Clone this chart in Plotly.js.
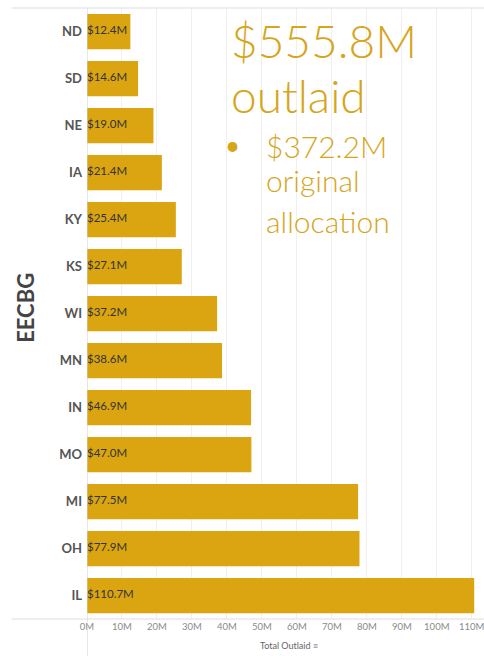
<!DOCTYPE html>
<html>
<head>
<meta charset="utf-8">
<script src="https://cdn.plot.ly/plotly-3.0.1.min.js"></script>
<style>
html,body{margin:0;padding:0;background:#fff;}
#chart{width:484px;height:656px;}
</style>
</head>
<body>
<div id="chart"></div>
<script>
var states = ["ND","SD","NE","IA","KY","KS","WI","MN","IN","MO","MI","OH","IL"];
var outlaid = [12.4,14.6,19.0,21.4,25.4,27.1,37.2,38.6,46.9,47.0,77.5,77.9,110.7];
var tickVals = [0,10,20,30,40,50,60,70,80,90,100,110];
var tickText = ["0M","10M","20M","30M","40M","50M","60M","70M","80M","90M","100M","110M"];
var headline = ["$555.8M","outlaid"];
var subline = ["$372.2M","original","allocation"];
var xTitle = "Total Outlaid \u2261";
var yTitle = "EECBG";

var gold = "#DAA511";
var textGold = "#D6A51C";

var labels = outlaid.map(function(v){ return "$" + v.toFixed(1) + "M"; });

var traces = [
  {
    type: "bar",
    orientation: "h",
    x: outlaid,
    y: states,
    width: 0.75,
    marker: {color: gold},
    hoverinfo: "none"
  },
  {
    type: "scatter",
    mode: "text",
    x: states.map(function(){ return 0; }),
    y: states,
    text: labels,
    textposition: "middle right",
    textfont: {family: "Lato, 'Open Sans', sans-serif", size: 11.5, color: "#333333"},
    hoverinfo: "none",
    cliponaxis: false
  }
];

var layout = {
  width: 484,
  height: 656,
  margin: {l: 87, r: 0, t: 8, b: 37, pad: 0},
  paper_bgcolor: "#ffffff",
  plot_bgcolor: "#ffffff",
  showlegend: false,
  xaxis: {
    range: [0, 113.5],
    tickvals: tickVals,
    ticktext: tickText,
    automargin: false,
    ticklabeloverflow: "allow",
    showgrid: true,
    gridcolor: "#f0f0f0",
    gridwidth: 1,
    zeroline: false,
    showline: false,
    ticks: "",
    tickfont: {family: "Lato, sans-serif", size: 9.5, color: "#8a8a8a"},
    fixedrange: true
  },
  yaxis: {
    type: "category",
    range: [states.length - 0.5, -0.5],
    automargin: false,
    showgrid: false,
    zeroline: false,
    showline: false,
    ticks: "",
    ticklabelstandoff: 4,
    tickfont: {family: "Lato, sans-serif", size: 13, color: "#555555", weight: "bold"},
    fixedrange: true
  },
  shapes: [
    {type: "line", xref: "paper", yref: "paper", x0: -0.19, x1: 1, y0: 1, y1: 1, line: {color: "#dddddd", width: 1}},
    {type: "line", xref: "paper", yref: "paper", x0: -0.19, x1: 1, y0: 0, y1: 0, line: {color: "#dddddd", width: 1}},
    {type: "line", xref: "x", yref: "paper", x0: 0, x1: 0, y0: -0.1, y1: 1, line: {color: "#cfcfcf", width: 1}, layer: "above"}
  ],
  annotations: [
    {xref: "paper", yref: "paper", x: 0.358, y: 0.946, xanchor: "left", yanchor: "middle", showarrow: false,
     text: headline[0], font: {family: "Lato, sans-serif", size: 46, color: textGold, weight: 300}},
    {xref: "paper", yref: "paper", x: 0.358, y: 0.857, xanchor: "left", yanchor: "middle", showarrow: false,
     text: headline[1], font: {family: "Lato, sans-serif", size: 46, color: textGold, weight: 300}},
    {xref: "paper", yref: "paper", x: 0.366, y: 0.776, xanchor: "center", yanchor: "middle", showarrow: false,
     text: "\u2022", font: {family: "Lato, sans-serif", size: 26, color: textGold}},
    {xref: "paper", yref: "paper", x: 0.447, y: 0.774, xanchor: "left", yanchor: "middle", showarrow: false,
     text: subline[0], font: {family: "Lato, sans-serif", size: 30, color: textGold, weight: 300}},
    {xref: "paper", yref: "paper", x: 0.447, y: 0.718, xanchor: "left", yanchor: "middle", showarrow: false,
     text: subline[1], font: {family: "Lato, sans-serif", size: 30, color: textGold, weight: 300}},
    {xref: "paper", yref: "paper", x: 0.447, y: 0.651, xanchor: "left", yanchor: "middle", showarrow: false,
     text: subline[2], font: {family: "Lato, sans-serif", size: 30, color: textGold, weight: 300}},
    {xref: "paper", yref: "paper", x: 0.51, y: -0.043, xanchor: "center", yanchor: "middle", showarrow: false,
     text: xTitle, font: {family: "Lato, sans-serif", size: 9, color: "#666666"}},
    {xref: "paper", yref: "paper", x: -0.155, y: 0.51, xanchor: "center", yanchor: "middle", showarrow: false, textangle: -90,
     text: yTitle, font: {family: "Lato, sans-serif", size: 22, color: "#444444", weight: "bold"}}
  ]
};

Plotly.newPlot("chart", traces, layout, {displayModeBar: false, staticPlot: true});
</script>
</body>
</html>
